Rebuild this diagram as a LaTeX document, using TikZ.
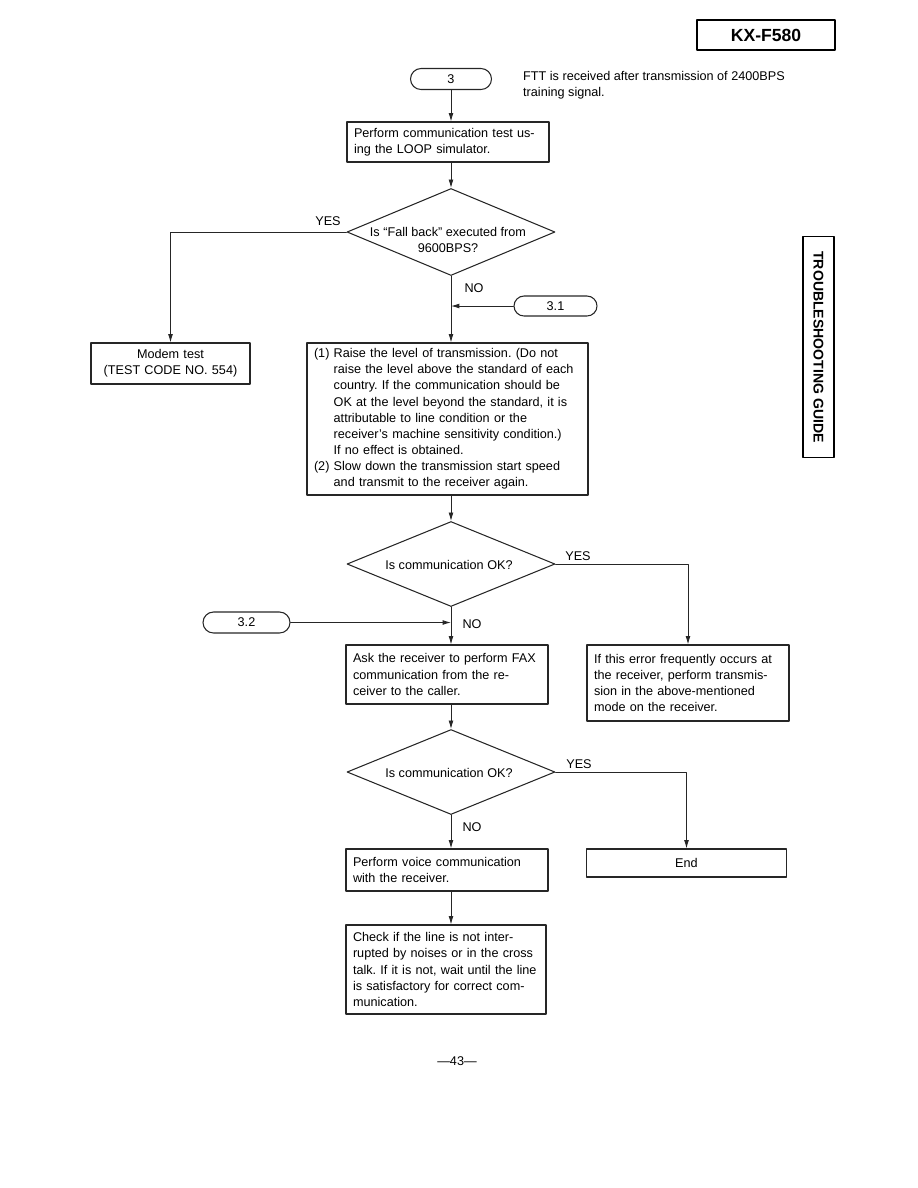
\documentclass[tikz,border=0pt]{standalone}
\usepackage{fontspec}
\setmainfont{Liberation Sans}
\usetikzlibrary{arrows.meta, positioning, shapes.geometric, shapes.misc}
\tikzset{every path/.style={line cap=round, line join=round}}
\newcommand{\hang}{\hphantom{(1)\ }}
\frenchspacing

\begin{document}
\begin{tikzpicture}[
    x=0.02cm, y=-0.02cm,
    font=\fontsize{7.2}{9.2}\selectfont,
    >={Latex[length=4.8pt, width=2.8pt]},
    block/.style={
        draw=black!85,
        line width=0.6pt,
        align=left,
        text width=3.76cm,
        inner xsep=4pt,
        inner ysep=1pt
    },
    plain/.style={block, align=center},
    decision/.style={
        draw=black!85,
        line width=0.6pt,
        diamond,
        minimum width=4.16cm,
        minimum height=1.7cm,
        inner sep=0pt
    },
    offpage/.style={
        draw=black!85,
        line width=0.6pt,
        rounded rectangle,
        minimum width=1.62cm,
        minimum height=0.42cm,
        inner sep=0pt
    },
    flow/.style={->, line width=0.5pt, draw=black!85},
    line/.style={line width=0.5pt, draw=black!85}
]
\useasboundingbox (0,0) rectangle (918,1188);

% page header and side tab
\node[draw, line width=0.6pt, minimum width=2.76cm, minimum height=0.6cm,
      font=\fontsize{10}{12}\selectfont\bfseries] (model) at (766,35) {KX-F580};
\node[draw, line width=0.6pt, minimum width=4.42cm, minimum height=0.62cm, rotate=-90,
      font=\fontsize{8}{10}\selectfont\bfseries] (tab) at (818.5,347) {TROUBLESHOOTING GUIDE};

\node[offpage] (start) at (451,79) {3};
\node[anchor=north west, align=left] (note) at (517,65)
{FTT is received after transmission of 2400BPS\\training signal.};

\node[block, minimum height=0.8cm] (looptest) at (448,142)
{Perform communication test us-\\ing the LOOP simulator.};

\node[decision, minimum height=1.74cm] (fallback) at (451,232) {};
\node[align=center] (fallbacktxt) at (448,240) {Is ``Fall back'' executed from\\9600BPS?};

\node[plain, text width=2.9cm, minimum height=0.82cm] (modem) at (170.5,363.5)
{Modem test\\(TEST CODE NO. 554)};

\node[offpage, minimum width=1.66cm, minimum height=0.4cm] (conn31) at (555.5,306) {3.1};

\node[block, text width=5.34cm, minimum height=3.04cm] (raise) at (447.5,419)
{(1) Raise the level of transmission. (Do not\\
\hang raise the level above the standard of each\\
\hang country. If the communication should be\\
\hang OK at the level beyond the standard, it is\\
\hang attributable to line condition or the\\
\hang receiver's machine sensitivity condition.)\\
\hang If no effect is obtained.\\
(2) Slow down the transmission start speed\\
\hang and transmit to the receiver again.};

\node[decision] (commok) at (451,564) {};
\node (commoktxt) at (449,565) {Is communication OK?};

\node[offpage, minimum width=1.74cm] (conn32) at (246.5,622.5) {3.2};

\node[block, minimum height=1.18cm] (askfax) at (447,674.5)
{Ask the receiver to perform FAX\\communication from the re-\\ceiver to the caller.};

\node[block, minimum height=1.52cm] (errnote) at (688,683)
{If this error frequently occurs at\\the receiver, perform transmis-\\sion in the above-mentioned\\mode on the receiver.};

\node[decision] (commok2) at (451,772) {};
\node (commok2txt) at (449,773) {Is communication OK?};

\node[block, minimum height=0.84cm] (voice) at (447,870)
{Perform voice communication\\with the receiver.};

\node[plain, text width=3.71cm, minimum height=0.56cm] (endbox) at (686.5,863) {End};

\node[block, text width=3.72cm, minimum height=1.78cm] (checkline) at (446,969.5)
{Check if the line is not inter-\\rupted by noises or in the cross\\talk. If it is not, wait until the line\\is satisfactory for correct com-\\munication.};

\node (page) at (457,1061) {\textemdash43\textemdash};

% branch labels
\node (yes1) at (328,221) {YES};
\node (no1) at (474,288) {NO};
\node (yes2) at (578,556) {YES};
\node (no2) at (472,624) {NO};
\node (yes3) at (579,764) {YES};
\node (no3) at (472,827) {NO};

% connectors
\draw[flow] (start.south) -- (start.south |- looptest.north);
\draw[flow] (fallback.north |- looptest.south) -- (fallback.north);
\draw[flow] (fallback.west) -| (modem.north);
\draw[flow] (fallback.south) -- (fallback.south |- raise.north);
\draw[flow] (conn31.west) -- (conn31.west -| fallback.south);

\draw[flow] (commok.north |- raise.south) -- (commok.north);
\draw[flow] (commok.east) -| (errnote.north);
\draw[flow] (commok.south) -- (commok.south |- askfax.north);
\draw[flow] (conn32.east) -- (conn32.east -| commok.south);

\draw[flow] (commok2.north |- askfax.south) -- (commok2.north);
\draw[flow] (commok2.east) -| (endbox.north);
\draw[flow] (commok2.south) -- (commok2.south |- voice.north);
\draw[flow] (commok2.south |- voice.south) -- (commok2.south |- checkline.north);

\end{tikzpicture}
\end{document}
